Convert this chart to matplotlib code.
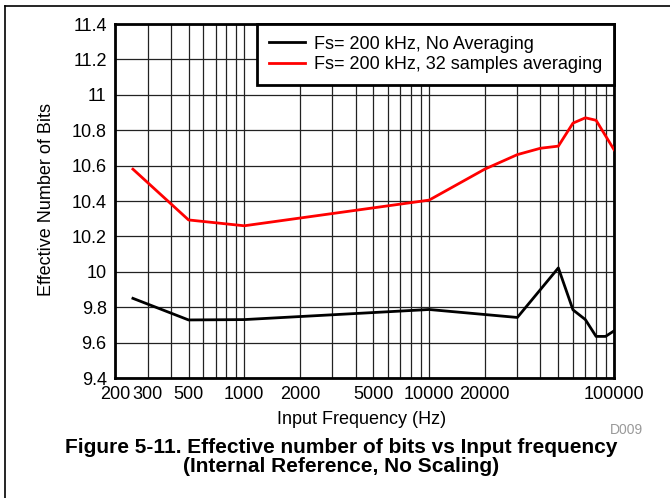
import matplotlib
matplotlib.use("Agg")
import matplotlib.pyplot as plt
from matplotlib.ticker import FixedLocator, FixedFormatter, LogLocator, NullFormatter
from matplotlib.lines import Line2D

plt.rcParams['font.family'] = ['Liberation Sans', 'DejaVu Sans']

# Data
freq_noavg = [250, 500, 1000, 10000, 30000, 50000, 60000, 70000, 80000, 90000, 100000]
enob_noavg = [9.85, 9.728, 9.73, 9.787, 9.742, 10.022, 9.785, 9.73, 9.635, 9.635, 9.666]
freq_avg = [250, 500, 1000, 10000, 20000, 30000, 40000, 50000, 60000, 70000, 80000, 100000]
enob_avg = [10.58, 10.293, 10.26, 10.405, 10.58, 10.662, 10.698, 10.71, 10.84, 10.87, 10.856, 10.69]
series_labels = ["Fs= 200 kHz, No Averaging", "Fs= 200 kHz, 32 samples averaging"]
xticks = [200, 300, 500, 1000, 2000, 5000, 10000, 20000, 100000]
xtick_labels = ["200", "300", "500", "1000", "2000", "5000", "10000", "20000", "100000"]
yticks = [9.4, 9.6, 9.8, 10, 10.2, 10.4, 10.6, 10.8, 11, 11.2, 11.4]
ytick_labels = ["9.4", "9.6", "9.8", "10", "10.2", "10.4", "10.6", "10.8", "11", "11.2", "11.4"]

W, H = 670, 498
fig = plt.figure(figsize=(W / 100, H / 100), dpi=100)
ax = fig.add_axes([115 / W, (H - 378) / H, 499 / W, 354 / H])

ax.plot(freq_noavg, enob_noavg, color='black', lw=2.0, label=series_labels[0], zorder=3)
ax.plot(freq_avg, enob_avg, color='#ff0000', lw=2.0, label=series_labels[1], zorder=3)

ax.set_xscale('log')
ax.set_xlim(200, 100000)
ax.set_ylim(9.4, 11.4)
ax.xaxis.set_major_locator(FixedLocator(xticks))
ax.xaxis.set_major_formatter(FixedFormatter(xtick_labels))
ax.xaxis.set_minor_locator(LogLocator(base=10, subs=range(1, 10), numticks=50))
ax.xaxis.set_minor_formatter(NullFormatter())
ax.yaxis.set_major_locator(FixedLocator(yticks))
ax.yaxis.set_major_formatter(FixedFormatter(ytick_labels))

ax.tick_params(which='both', length=0, labelsize=13, pad=6)
ax.grid(True, which='both', axis='x', color='#222222', lw=0.9)
ax.grid(True, which='major', axis='y', color='#222222', lw=0.9)
for s in ax.spines.values():
    s.set_linewidth(2.0)
    s.set_color('black')

leg = ax.legend(loc='upper right', bbox_to_anchor=(1, 1), borderaxespad=0,
                fancybox=False, framealpha=1, edgecolor='black', fontsize=13,
                handlelength=2.0, handletextpad=0.5, labelspacing=0.2,
                borderpad=0.65)
leg.get_frame().set_linewidth(2.0)

fig.text(47 / W, 1 - 200 / H, "Effective Number of Bits", rotation=90,
         ha='center', va='center', fontsize=13)
fig.text(362 / W, 1 - 419 / H, "Input Frequency (Hz)", ha='center', va='center', fontsize=13)
fig.text(643 / W, 1 - 430 / H, "D009", ha='right', va='center', fontsize=10, color='#999999')
fig.text(341 / W, 1 - 457 / H,
         "Figure 5-11. Effective number of bits vs Input frequency\n(Internal Reference, No Scaling)",
         ha='center', va='center', fontsize=15, fontweight='bold', linespacing=0.95)

fig.add_artist(Line2D([5 / W, 1], [1 - 6 / H, 1 - 6 / H], color='black', lw=1.2))
fig.add_artist(Line2D([5 / W, 5 / W], [0, 1 - 6 / H], color='black', lw=1.2))

fig.savefig("out.png", dpi=100)
